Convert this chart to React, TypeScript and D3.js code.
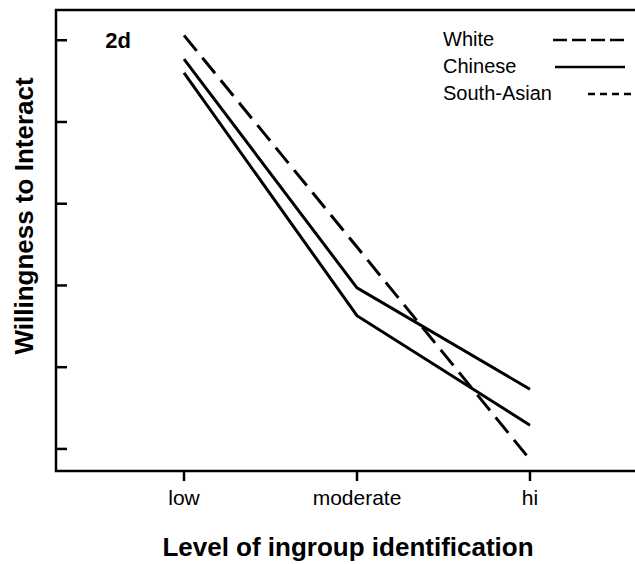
import { useEffect, useRef } from 'react';
import * as d3 from 'd3';

const levels = ['low', 'moderate', 'hi'];
const white = [6.06, 3.47, 0.87];
const chinese = [5.77, 2.97, 1.73];
const southAsian = [5.6, 2.63, 1.29];
const yTicks = [1, 2, 3, 4, 5, 6];
const legendNames = ['White', 'Chinese', 'South-Asian'];

const App = () => {
  const ref = useRef<SVGSVGElement>(null);

  useEffect(() => {
    const svg = d3.select(ref.current);
    svg.selectAll('*').remove();
    const font = '"Liberation Sans", Arial, sans-serif';

    const left = 56, top = 10, bottom = 471;
    const xScale = d3.scalePoint<string>().domain(levels).range([left, 658]).padding(0.74);
    const yScale = d3.scaleLinear().domain([0.73, 6.37]).range([bottom, top]);

    // frame (right side runs off the page)
    svg.append('path')
      .attr('d', `M640,${top}H${left}V${bottom}H640`)
      .attr('fill', 'none').attr('stroke', 'black').attr('stroke-width', 2.5);

    // y ticks, pointing inwards, no labels
    svg.selectAll('.ytick').data(yTicks).enter().append('line')
      .attr('x1', left).attr('x2', left + 11)
      .attr('y1', d => yScale(d)).attr('y2', d => yScale(d))
      .attr('stroke', 'black').attr('stroke-width', 2.5);

    // x ticks + labels
    const xt = svg.selectAll('.xtick').data(levels).enter().append('g');
    xt.append('line')
      .attr('x1', d => xScale(d)!).attr('x2', d => xScale(d)!)
      .attr('y1', bottom).attr('y2', bottom + 10)
      .attr('stroke', 'black').attr('stroke-width', 2.5);
    xt.append('text').text(d => d)
      .attr('x', d => xScale(d)!).attr('y', 505)
      .attr('text-anchor', 'middle')
      .style('font-family', font).style('font-size', '21px');

    const line = d3.line<number>()
      .x((d, i) => xScale(levels[i])!)
      .y(d => yScale(d));

    const series = [
      { vals: white, dash: '20,9' },
      { vals: chinese, dash: null },
      { vals: southAsian, dash: null },
    ];
    series.forEach(s => {
      svg.append('path').datum(s.vals)
        .attr('d', line)
        .attr('fill', 'none').attr('stroke', 'black').attr('stroke-width', 3)
        .attr('stroke-dasharray', s.dash);
    });

    // panel label
    svg.append('text').text('2d')
      .attr('x', 118).attr('y', 48).attr('text-anchor', 'middle')
      .style('font-family', font).style('font-weight', 'bold').style('font-size', '22px');

    // legend
    const legendDash = ['14,5', null, '7,5'];
    const legendX1 = [553, 555, 588];
    const legendX2 = [624, 625, 640];
    legendNames.forEach((name, i) => {
      const y = 39 + i * 27;
      svg.append('text').text(name)
        .attr('x', 443).attr('y', y + 7)
        .style('font-family', font).style('font-size', '20px');
      svg.append('line')
        .attr('x1', legendX1[i]).attr('x2', legendX2[i])
        .attr('y1', y + 1).attr('y2', y + 1)
        .attr('stroke', 'black').attr('stroke-width', 2.5)
        .attr('stroke-dasharray', legendDash[i]);
    });

    // axis titles
    svg.append('text').text('Level of ingroup identification')
      .attr('x', 348).attr('y', 556).attr('text-anchor', 'middle')
      .style('font-family', font).style('font-weight', 'bold').style('font-size', '26px');

    svg.append('text').text('Willingness to Interact')
      .attr('transform', 'translate(33,216) rotate(-90)')
      .attr('text-anchor', 'middle')
      .style('font-family', font).style('font-weight', 'bold').style('font-size', '26px');
  }, []);

  return (
    <div>
      <svg
        ref={ref}
        width={635}
        height={564}
        style={{ position: 'absolute', left: 0, top: 0, background: 'white' }}
      ></svg>
    </div>
  );
};

export default App;
